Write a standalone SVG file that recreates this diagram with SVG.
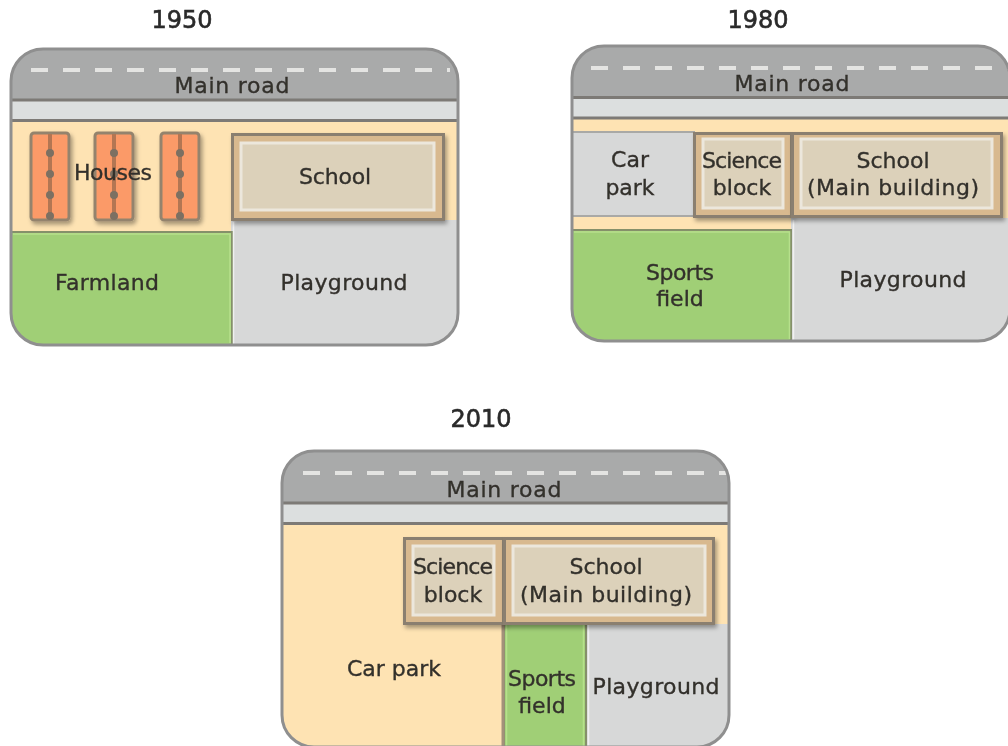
<svg xmlns="http://www.w3.org/2000/svg" width="1008" height="746" viewBox="0 0 1008 746">
<style>
text{font-family:"DejaVu Sans","Liberation Sans",sans-serif;font-size:22px;fill:#33302c;stroke:#33302c;stroke-width:.35px;text-anchor:middle}
.yr{fill:#2a2a2a;stroke:#2a2a2a;font-size:24px;stroke-width:.6px}
.edge{fill:none;stroke:#8f8f8f;stroke-width:3}
.road{fill:#a9aaaa}
.dash{stroke:#e4e4e2;stroke-width:4;stroke-dasharray:17 15;fill:none}
.line{stroke:#7d7a76;stroke-width:3;fill:none}
.strip{fill:#dcdfdf}
.land{fill:#fee3b3}
.green{fill:#a0cf76;stroke:#85906b;stroke-width:2}
.glow{fill:none;stroke:#b7e08c;stroke-width:1.500}
.grey{fill:#d7d8d8}
.bo{fill:#d8b98f;stroke:#8a7f70;stroke-width:3}
.bi{fill:#dcd1ba;stroke:#ece7dc;stroke-width:3}
.house{fill:#fb9a68;stroke:#94836d;stroke-width:3}
.ridge{stroke:#b37653;stroke-width:4}
.dot{fill:#7c6f62}
</style>
<defs>
<filter id="soft" x="-5%" y="-5%" width="110%" height="110%"><feGaussianBlur stdDeviation="0.7"/></filter>
<filter id="sh" x="-10%" y="-10%" width="125%" height="125%"><feDropShadow dx="2" dy="3" stdDeviation="2" flood-color="#000" flood-opacity=".35"/></filter>
<clipPath id="c1"><rect x="11" y="49" width="447" height="296" rx="32"/></clipPath>
<clipPath id="c2"><rect x="572" y="46" width="438" height="295" rx="32"/></clipPath>
<clipPath id="c3"><rect x="282" y="451" width="447" height="296" rx="32"/></clipPath>
<g id="h"><rect x="-19" y="0" width="38" height="87" rx="3" class="house"/><line x1="0" y1="1" x2="0" y2="86" class="ridge"/><circle cy="20" r="4" class="dot"/><circle cy="41" r="4" class="dot"/><circle cy="62" r="4" class="dot"/><circle cy="83" r="4" class="dot"/></g>
</defs>
<g filter="url(#soft)">
<text id="y1950" class="yr" x="182" y="28">1950</text>
<text id="y1980" class="yr" x="758" y="28">1980</text>
<text id="y2010" class="yr" x="481" y="427">2010</text>

<g id="map1950">
<g clip-path="url(#c1)">
<rect x="11" y="49" width="447" height="51" class="road"/>
<rect x="11" y="100" width="447" height="20" class="strip"/>
<rect x="11" y="121" width="447" height="110" class="land"/>
<rect x="231" y="220" width="227" height="125" class="grey"/>
<rect x="10" y="232" width="222" height="120" class="green"/>
<path d="M13 234H230V343" class="glow"/>
<path d="M233.500 222V345" stroke="#f0f0f0" stroke-width="1.500"/>
<path d="M31 70H450" class="dash"/>
<path d="M11 100H458M11 120.500H458" class="line"/>
<g id="houses" filter="url(#sh)"><use href="#h" x="50" y="133"/><use href="#h" x="114" y="133"/><use href="#h" x="180" y="133"/></g>
<g id="school1" filter="url(#sh)"><rect x="232.500" y="134.500" width="211" height="85" class="bo"/><rect x="241" y="143" width="193" height="67" class="bi"/></g>
</g>
<rect x="11" y="49" width="447" height="296" rx="32" class="edge"/>
<text x="232" y="93" textLength="115">Main road</text><text x="113" y="180" textLength="78">Houses</text><text x="335" y="184" textLength="72">School</text><text x="107" y="290" textLength="104">Farmland</text><text x="344" y="290" textLength="127">Playground</text>
</g>

<g id="map1980">
<g clip-path="url(#c2)">
<rect x="572" y="46" width="438" height="51" class="road"/>
<rect x="572" y="97" width="438" height="21" class="strip"/>
<rect x="572" y="118" width="438" height="112" class="land"/>
<rect x="572" y="132" width="122" height="84" class="grey" stroke="#a9a9a6" stroke-width="2"/>
<rect x="791" y="218" width="219" height="124" class="grey"/>
<rect x="570" y="230" width="221" height="112" class="green"/>
<path d="M574 232H789.500V339" class="glow"/>
<path d="M793.500 220V341" stroke="#f0f0f0" stroke-width="1.500"/>
<path d="M591 68H1010" class="dash"/>
<path d="M572 97.500H1010M572 118H1010" class="line"/>
<g id="science2" filter="url(#sh)"><rect x="694.500" y="133.500" width="97" height="83" class="bo"/><rect x="703" y="139" width="80" height="69" class="bi"/></g>
<g id="school2" filter="url(#sh)"><rect x="792.500" y="133.500" width="209" height="83" class="bo"/><rect x="801" y="139" width="191" height="69" class="bi"/></g>
</g>
<rect x="572" y="46" width="438" height="295" rx="32" class="edge"/>
<text x="792" y="91" textLength="115">Main road</text>
<text x="630" y="167">Car</text><text x="630" y="195">park</text>
<text x="742" y="168" textLength="80">Science</text><text x="742" y="195">block</text>
<text x="893" y="168" textLength="73">School</text><text x="893" y="195" textLength="172">(Main building)</text>
<text x="680" y="280" textLength="68">Sports</text><text x="680" y="306">field</text>
<text x="903" y="287" textLength="127">Playground</text>
</g>

<g id="map2010">
<g clip-path="url(#c3)">
<rect x="282" y="451" width="447" height="52" class="road"/>
<rect x="282" y="503" width="447" height="21" class="strip"/>
<rect x="282" y="524" width="447" height="222" class="land"/>
<rect x="586" y="624" width="143" height="122" class="grey"/>
<rect x="504" y="624" width="82" height="124" class="green"/>
<path d="M506.500 624V746M583.500 624V746" class="glow"/>
<path d="M588.500 624V746" stroke="#f0f0f0" stroke-width="1.500"/>
<path d="M303 473H730" class="dash"/>
<path d="M282 503H729M282 523.500H729" class="line"/>
<path d="M503 624V746" stroke="#a3917a" stroke-width="3"/>
<g id="science3" filter="url(#sh)"><rect x="404.500" y="538.500" width="99" height="85" class="bo"/><rect x="413" y="546" width="81" height="69" class="bi"/></g>
<g id="school3" filter="url(#sh)"><rect x="504.500" y="538.500" width="209" height="85" class="bo"/><rect x="513" y="546" width="192" height="69" class="bi"/></g>
</g>
<rect x="282" y="451" width="447" height="296" rx="32" class="edge"/>
<text x="504" y="497" textLength="115">Main road</text>
<text x="453" y="574" textLength="80">Science</text><text x="453" y="602">block</text>
<text x="606" y="574" textLength="73">School</text><text x="606" y="602" textLength="172">(Main building)</text>
<text x="394" y="676">Car park</text>
<text x="542" y="686" textLength="68">Sports</text><text x="542" y="713">field</text>
<text x="656" y="694" textLength="127">Playground</text>
</g>
</g>
</svg>
